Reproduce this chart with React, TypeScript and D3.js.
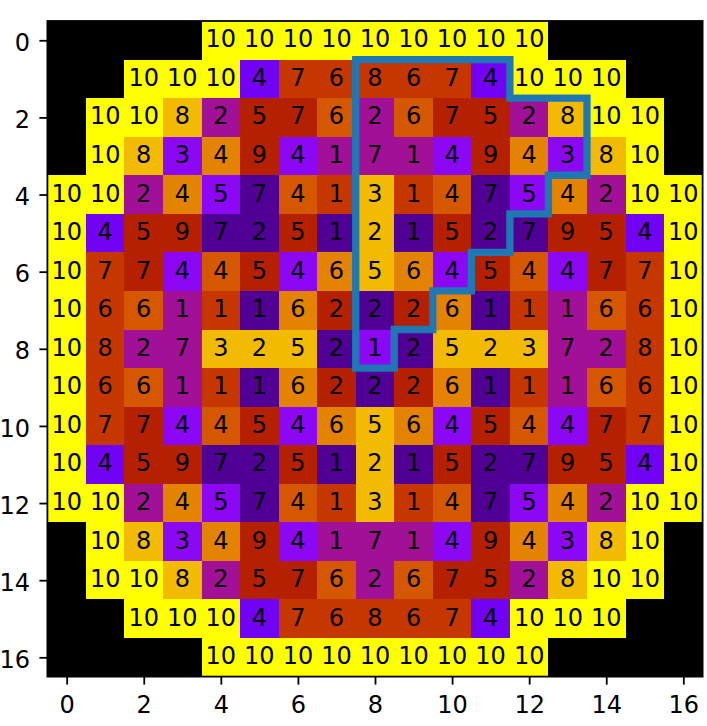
import React, { useEffect, useRef } from 'react';
import * as d3 from 'd3';

// colour level of each cell (0 = empty position, drawn black by the colormap)
const colorRows: number[][] = [
  [0, 0, 0, 0, 10, 10, 10, 10, 10, 10, 10, 10, 10, 0, 0, 0, 0],
  [0, 0, 10, 10, 10, 2, 6, 6, 6, 6, 6, 2, 10, 10, 10, 0, 0],
  [0, 10, 10, 9, 4, 5, 5, 7, 4, 7, 5, 5, 4, 9, 10, 10, 0],
  [0, 10, 9, 3, 8, 5, 3, 4, 4, 4, 3, 5, 8, 3, 9, 10, 0],
  [10, 10, 4, 8, 3, 1, 7, 6, 9, 6, 7, 1, 3, 8, 4, 10, 10],
  [10, 2, 5, 5, 1, 1, 5, 1, 9, 1, 5, 1, 1, 5, 5, 2, 10],
  [10, 6, 5, 3, 7, 5, 3, 8, 9, 8, 3, 5, 7, 3, 5, 6, 10],
  [10, 6, 7, 4, 6, 1, 8, 5, 1, 5, 8, 1, 6, 4, 7, 6, 10],
  [10, 6, 4, 4, 9, 9, 9, 1, 3, 1, 9, 9, 9, 4, 4, 6, 10],
  [10, 6, 7, 4, 6, 1, 8, 5, 1, 5, 8, 1, 6, 4, 7, 6, 10],
  [10, 6, 5, 3, 7, 5, 3, 8, 9, 8, 3, 5, 7, 3, 5, 6, 10],
  [10, 2, 5, 5, 1, 1, 5, 1, 9, 1, 5, 1, 1, 5, 5, 2, 10],
  [10, 10, 4, 8, 3, 1, 7, 6, 9, 6, 7, 1, 3, 8, 4, 10, 10],
  [0, 10, 9, 3, 8, 5, 3, 4, 4, 4, 3, 5, 8, 3, 9, 10, 0],
  [0, 10, 10, 9, 4, 5, 5, 7, 4, 7, 5, 5, 4, 9, 10, 10, 0],
  [0, 0, 10, 10, 10, 2, 6, 6, 6, 6, 6, 2, 10, 10, 10, 0, 0],
  [0, 0, 0, 0, 10, 10, 10, 10, 10, 10, 10, 10, 10, 0, 0, 0, 0],
];

// number written in each cell (null = no text)
const _ = null;
const labelRows: (number | null)[][] = [
  [_, _, _, _, 10, 10, 10, 10, 10, 10, 10, 10, 10, _, _, _, _],
  [_, _, 10, 10, 10, 4, 7, 6, 8, 6, 7, 4, 10, 10, 10, _, _],
  [_, 10, 10, 8, 2, 5, 7, 6, 2, 6, 7, 5, 2, 8, 10, 10, _],
  [_, 10, 8, 3, 4, 9, 4, 1, 7, 1, 4, 9, 4, 3, 8, 10, _],
  [10, 10, 2, 4, 5, 7, 4, 1, 3, 1, 4, 7, 5, 4, 2, 10, 10],
  [10, 4, 5, 9, 7, 2, 5, 1, 2, 1, 5, 2, 7, 9, 5, 4, 10],
  [10, 7, 7, 4, 4, 5, 4, 6, 5, 6, 4, 5, 4, 4, 7, 7, 10],
  [10, 6, 6, 1, 1, 1, 6, 2, 2, 2, 6, 1, 1, 1, 6, 6, 10],
  [10, 8, 2, 7, 3, 2, 5, 2, 1, 2, 5, 2, 3, 7, 2, 8, 10],
  [10, 6, 6, 1, 1, 1, 6, 2, 2, 2, 6, 1, 1, 1, 6, 6, 10],
  [10, 7, 7, 4, 4, 5, 4, 6, 5, 6, 4, 5, 4, 4, 7, 7, 10],
  [10, 4, 5, 9, 7, 2, 5, 1, 2, 1, 5, 2, 7, 9, 5, 4, 10],
  [10, 10, 2, 4, 5, 7, 4, 1, 3, 1, 4, 7, 5, 4, 2, 10, 10],
  [_, 10, 8, 3, 4, 9, 4, 1, 7, 1, 4, 9, 4, 3, 8, 10, _],
  [_, 10, 10, 8, 2, 5, 7, 6, 2, 6, 7, 5, 2, 8, 10, 10, _],
  [_, _, 10, 10, 10, 4, 7, 6, 8, 6, 7, 4, 10, 10, 10, _, _],
  [_, _, _, _, 10, 10, 10, 10, 10, 10, 10, 10, 10, _, _, _, _],
];

const tickValues = [0, 2, 4, 6, 8, 10, 12, 14, 16];

// outline of the symmetry sector (x = column, y = row)
const outline: [number, number][] = [
  [7.5, 0.5], [11.5, 0.5], [11.5, 1.5], [13.5, 1.5], [13.5, 3.5],
  [12.5, 3.5], [12.5, 4.5], [11.5, 4.5], [11.5, 5.5], [10.5, 5.5],
  [10.5, 6.5], [9.5, 6.5], [9.5, 7.5], [8.5, 7.5], [8.5, 8.5], [7.5, 8.5],
];

// matplotlib "gnuplot" colormap
const gnuplot = (t: number) =>
  d3.rgb(
    255 * Math.sqrt(t),
    255 * t * t * t,
    255 * Math.max(0, Math.sin(2 * Math.PI * t))
  ).formatHex();

const FONT = 'DejaVu Sans';

const CoreMap = () => {
  const ref = useRef<SVGSVGElement>(null);

  useEffect(() => {
    const svg = d3.select(ref.current);
    svg.selectAll('*').remove();

    const x = d3.scaleLinear().domain([-0.5, 16.5]).range([47.4, 702.6]);
    const y = d3.scaleLinear().domain([-0.5, 16.5]).range([21.0, 676.6]);
    const color = d3.scaleSequential(gnuplot).domain([0, 10]);

    const cells = colorRows.flatMap((row, r) =>
      row.map((v, c) => ({ r, c, v, label: labelRows[r][c] }))
    );

    // cells
    svg.append('g')
      .selectAll('rect')
      .data(cells)
      .enter().append('rect')
      .attr('x', d => x(d.c - 0.5))
      .attr('y', d => y(d.r - 0.5))
      .attr('width', d => x(d.c + 0.5) - x(d.c - 0.5))
      .attr('height', d => y(d.r + 0.5) - y(d.r - 0.5))
      .attr('fill', d => color(d.v))
      .attr('shape-rendering', 'crispEdges');

    // numbers
    svg.append('g')
      .selectAll('text')
      .data(cells.filter(d => d.label !== null))
      .enter().append('text')
      .attr('x', d => x(d.c))
      .attr('y', d => y(d.r) + 7)
      .attr('text-anchor', 'middle')
      .attr('font-family', FONT)
      .attr('font-size', 24)
      .attr('fill', '#000')
      .text(d => String(d.label));

    // sector outline
    svg.append('path')
      .attr('d', d3.line<[number, number]>().x(d => x(d[0])).y(d => y(d[1]))(outline) + 'Z')
      .attr('fill', 'none')
      .attr('stroke', '#1f77b4')
      .attr('stroke-width', 7.3)
      .attr('stroke-linejoin', 'miter');

    // frame
    svg.append('rect')
      .attr('x', x(-0.5))
      .attr('y', y(-0.5))
      .attr('width', x(16.5) - x(-0.5))
      .attr('height', y(16.5) - y(-0.5))
      .attr('fill', 'none')
      .attr('stroke', '#000')
      .attr('stroke-width', 1.8);

    // axes
    const xAxis = svg.append('g')
      .attr('transform', `translate(0,${y(16.5)})`)
      .call(d3.axisBottom(x).tickValues(tickValues).tickSize(8).tickPadding(11.4).tickFormat(d3.format('d')));
    const yAxis = svg.append('g')
      .attr('transform', `translate(${x(-0.5)},0)`)
      .call(d3.axisLeft(y).tickValues(tickValues).tickSize(8).tickPadding(9.4).tickFormat(d3.format('d')));

    [xAxis, yAxis].forEach(g => {
      g.select('.domain').remove();
      g.selectAll('line').attr('stroke', '#000').attr('stroke-width', 1.8);
      g.selectAll('text')
        .attr('font-family', FONT)
        .attr('font-size', 24)
        .attr('fill', '#000');
    });
    yAxis.selectAll('text').attr('dy', '0.42em');
  }, []);

  return (
    <svg
      ref={ref}
      width={707}
      height={726}
      style={{ position: 'absolute', left: 0, top: 0, background: '#fff' }}
    />
  );
};

export default function App() {
  return <CoreMap />;
}
